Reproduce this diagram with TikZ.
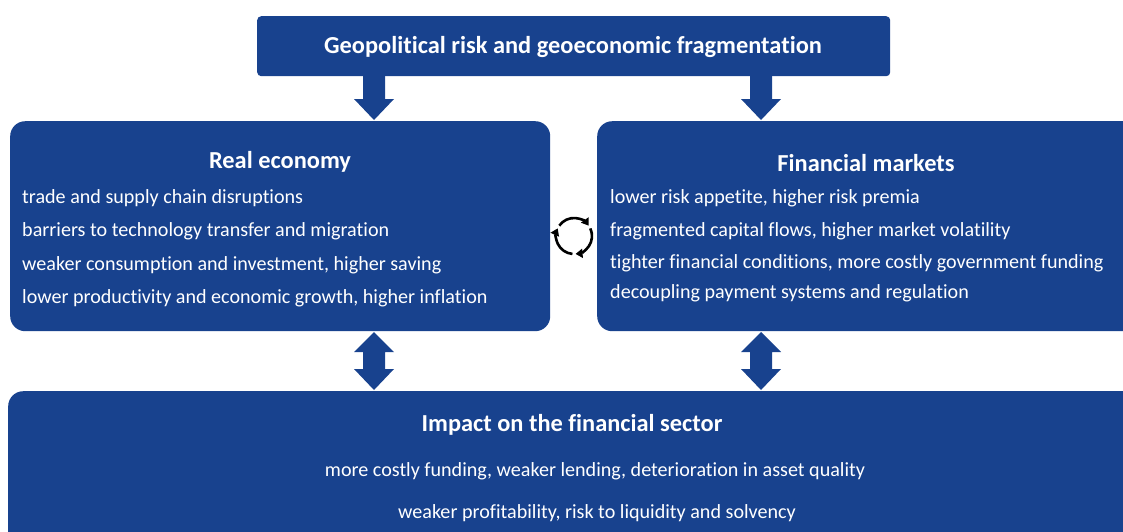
\documentclass[tikz,border=0pt]{standalone}
\usepackage{fontspec}
\setmainfont[Ligatures={NoCommon}]{Carlito}
\usetikzlibrary{arrows.meta}
\definecolor{ecbblue}{RGB}{24,66,142}
\begin{document}
\begin{tikzpicture}[x=1pt,y=-1pt,
 box/.style={fill=ecbblue, draw=none, rounded corners=15pt, inner sep=0pt, anchor=north west},
 ttl/.style={text=white, font=\fontsize{24.4}{28}\selectfont\bfseries, inner sep=0pt},
 itm/.style={text=white, font=\fontsize{20.1}{24}\selectfont, inner sep=0pt, anchor=base west},
 itmc/.style={text=white, font=\fontsize{20.1}{24}\selectfont, inner sep=0pt, anchor=base},
 blk/.style={fill=ecbblue, draw=none},
 cyc/.style={line width=2.6pt, -{Triangle[length=7pt,width=9pt]}}]
\clip (0,0) rectangle (1123,531);
% boxes
\node[box, rounded corners=4pt, minimum width=633pt, minimum height=60pt] (geo) at (257,16) {};
\node[box, minimum width=540pt, minimum height=210pt] (real) at (10,121) {};
\node[box, minimum width=560pt, minimum height=210pt] (fin) at (597,121) {};
\node[box, minimum width=1140pt, minimum height=170pt] (imp) at (8,391) {};
% titles
\node[ttl] (geot) at (573,47) {Geopolitical risk and geoeconomic fragmentation};
\node[ttl] (realt) at (280,162) {Real economy};
\node[ttl] (fint) at (866,163) {Financial markets};
\node[ttl] (impt) at (572,425) {Impact on the financial sector};
% real economy items
\node[itm] (r1) at (22,203) {trade and supply chain disruptions};
\node[itm] (r2) at (22,236) {barriers to technology transfer and migration};
\node[itm] (r3) at (22,270) {weaker consumption and investment, higher saving};
\node[itm] (r4) at (22,303) {lower productivity and economic growth, higher inflation};
% financial markets items
\node[itm] (f1) at (610,203) {lower risk appetite, higher risk premia};
\node[itm] (f2) at (610,236) {fragmented capital flows, higher market volatility};
\node[itm] (f3) at (610,268) {tighter financial conditions, more costly government funding};
\node[itm] (f4) at (610,298) {decoupling payment systems and regulation};
% impact items
\node[itmc] (i1) at (595,476) {more costly funding, weaker lending, deterioration in asset quality};
\node[itmc] (i2) at (597,518) {weaker profitability, risk to liquidity and solvency};
% down arrows
\foreach \ax in {374,761}{
 \fill[blk] (\ax-11,76) -- (\ax+11,76) -- (\ax+11,99) -- (\ax+20,99) -- (\ax,120)
   -- (\ax-20,99) -- (\ax-11,99) -- cycle;
 \fill[blk] (\ax,332) -- (\ax+20,352) -- (\ax+11,352) -- (\ax+11,369) -- (\ax+20,369)
   -- (\ax,390) -- (\ax-20,369) -- (\ax-11,369) -- (\ax-11,352) -- (\ax-20,352) -- cycle;
}
% cycle icon
\begin{scope}[shift={(574,236)}, yscale=-1]
 \draw[cyc] (145:18) arc[start angle=145, end angle=35, radius=18];
 \draw[cyc] (25:18) arc[start angle=25, end angle=-85, radius=18];
 \draw[cyc] (-95:18) arc[start angle=-95, end angle=-205, radius=18];
\end{scope}
\end{tikzpicture}
\end{document}
